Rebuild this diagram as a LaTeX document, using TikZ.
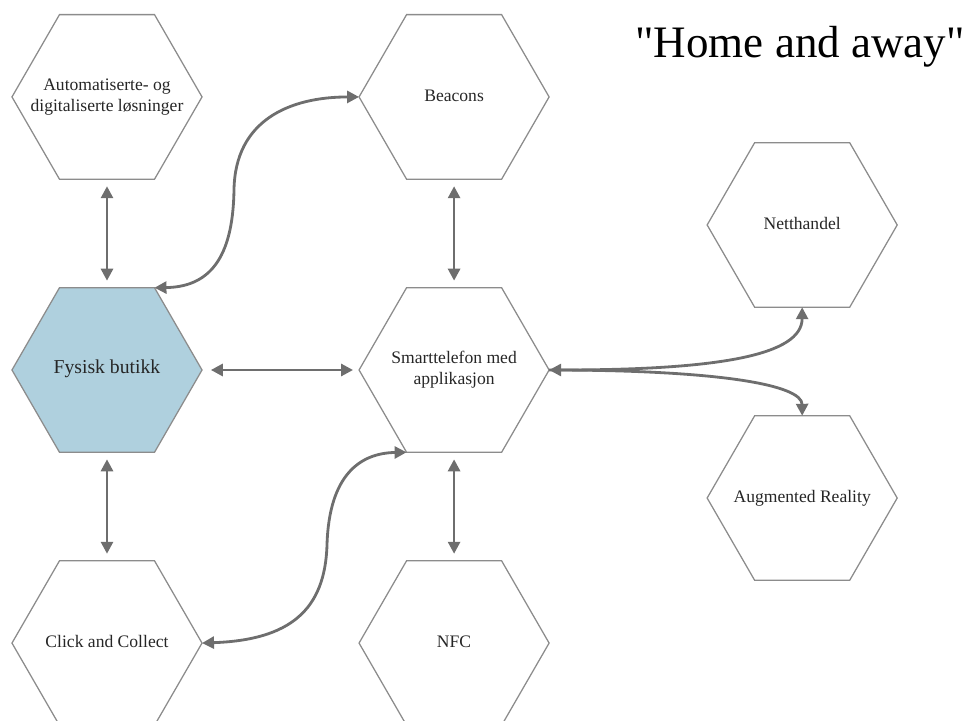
\documentclass[tikz,border=0pt]{standalone}
\usepackage{fontspec}
\setmainfont{Liberation Serif}
\usetikzlibrary{shapes.geometric, arrows.meta}
\definecolor{hexline}{HTML}{8C8C8C}
\definecolor{arrowgray}{HTML}{6E6E6E}
\definecolor{shopblue}{HTML}{AFD0DE}
% text that does not widen the hexagon
\newcommand{\hextext}[1]{\smash{\makebox[0pt]{\raisebox{-3pt}{\begin{tabular}{@{}c@{}}#1\end{tabular}}}}}
\tikzstyle{hexa} = [regular polygon, regular polygon sides = 6, minimum size = 4.75cm,
	inner sep = 0pt, outer sep = 0pt, draw = hexline, line width = 0.9pt,
	text = black!85, font = \fontsize{12.5}{15}\selectfont]
\tikzstyle{arrow} = [line width = 2pt, draw = arrowgray,
	{Triangle[length = 8.5pt, width = 8.5pt]}-{Triangle[length = 8.5pt, width = 8.5pt]}]
\tikzstyle{arrowend} = [line width = 2pt, draw = arrowgray,
	-{Triangle[length = 8.5pt, width = 8.5pt]}]

\begin{document}
\begin{tikzpicture}[x = 0.025cm, y = -0.025cm, node distance = 6.825cm]

\useasboundingbox (0,0) rectangle (968,721);

\node (fysisk) [hexa, fill = shopblue, font = \fontsize{14}{17}\selectfont] at (107,370) {\hextext{Fysisk butikk}};

\node (auto) [hexa, above of = fysisk] {\hextext{Automatiserte- og\\digitaliserte løsninger}};

\node (click) [hexa, below of = fysisk] {\hextext{Click and Collect}};

\node (smart) [hexa, node distance = 8.675cm, right of = fysisk] {\hextext{Smarttelefon med\\applikasjon}};

\node (beacons) [hexa, above of = smart] {\hextext{Beacons}};

\node (nfc) [hexa, below of = smart] {\hextext{NFC}};

\node (nett) [hexa, node distance = 8.7cm, right of = smart, yshift = 3.625cm] {\hextext{Netthandel}};

\node (ar) [hexa, below of = nett] {\hextext{Augmented Reality}};

\node (title) [font = \fontsize{32}{38}\selectfont] at (800,47) {\textquotedbl Home and away\textquotedbl};

\draw [arrow, shorten < = 0.175cm, shorten > = 0.175cm] (auto.south) -- (fysisk.north);
\draw [arrow, shorten < = 0.175cm, shorten > = 0.175cm] (fysisk.south) -- (click.north);
\draw [arrow, shorten < = 0.175cm, shorten > = 0.175cm] (beacons.south) -- (smart.north);
\draw [arrow, shorten < = 0.175cm, shorten > = 0.175cm] (smart.south) -- (nfc.north);
\draw [arrow, shorten < = 0.22cm, shorten > = 0.15cm] (fysisk.east) -- (smart.west);

% S-curves to the left column
\draw [arrow] (fysisk.60) .. controls (215,287) and (233,250) .. (234,190)
	.. controls (235,120) and (290,97) .. (beacons.west);
\draw [arrow] (click.east) .. controls (290,640) and (325,610) .. (327,545)
	.. controls (329,475) and (360,453) .. (smart.240);

% fork to the right
\draw [arrow] (smart.east) .. controls (720,370) and (802,355) .. (nett.south);
\draw [arrowend] (smart.east) .. controls (720,370) and (802,385) .. (ar.north);

\end{tikzpicture}
\end{document}
